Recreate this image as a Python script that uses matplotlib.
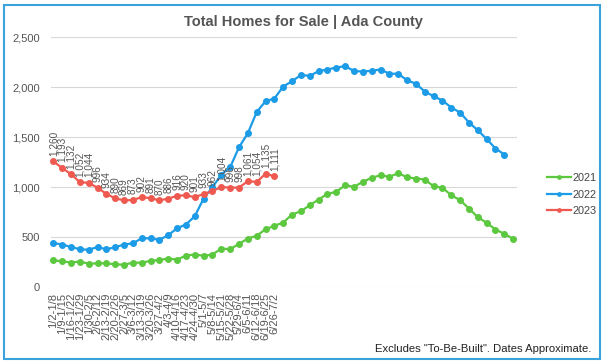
import matplotlib
matplotlib.use("Agg")
import matplotlib.pyplot as plt
from matplotlib.patches import Rectangle
from matplotlib.ticker import FuncFormatter

plt.rcParams["font.family"] = ["Liberation Sans", "DejaVu Sans"]

# ---------- data ----------
week_labels = [
    "1/2-1/8", "1/9-1/15", "1/16-1/22", "1/23-1/29", "1/30-2/5", "2/6-2/12",
    "2/13-2/19", "2/20-2/26", "2/27-3/5", "3/6-3/12", "3/13-3/19", "3/20-3/26",
    "3/27-4/2", "4/3-4/9", "4/10-4/16", "4/17-4/23", "4/24-4/30", "5/1-5/7",
    "5/8-5/14", "5/15-5/21", "5/22-5/28", "5/29-6/4", "6/5-6/11", "6/12-6/18",
    "6/19-6/25", "6/26-7/2",
]

homes_2021 = [
    270, 260, 248, 258, 236, 240, 240, 230, 226, 246, 246, 265, 273, 288,
    276, 318, 328, 316, 328, 388, 381, 435, 488, 515, 581, 615, 648, 728,
    761, 821, 878, 935, 955, 1021, 1005, 1055, 1095, 1121, 1105, 1141, 1101,
    1088, 1078, 1011, 995, 921, 871, 788, 701, 645, 578, 535, 485,
]

homes_2022 = [
    443, 428, 403, 381, 375, 403, 380, 401, 428, 440, 490, 490, 475, 521,
    591, 628, 711, 888, 1001, 1128, 1201, 1401, 1541, 1753, 1861, 1888, 2008,
    2061, 2123, 2115, 2161, 2178, 2198, 2211, 2163, 2158, 2165, 2178, 2136,
    2136, 2070, 2036, 1958, 1911, 1868, 1798, 1748, 1648, 1570, 1483, 1388,
    1328,
]

homes_2023 = [
    1260, 1193, 1132, 1052, 1044, 996, 934, 890, 869, 873, 902, 891, 870,
    886, 916, 920, 901, 933, 962, 1004, 996, 998, 1061, 1054, 1135, 1111,
]

COLORS = {"2021": "#5cc83f", "2022": "#1c9be6", "2023": "#ef5a50"}
GRAY = "#555555"

# ---------- plot ----------
fig = plt.figure(figsize=(6.07, 3.64), dpi=100)
ax = fig.add_axes([0.084, 0.2107, 0.768, 0.6868])

series = [("2021", homes_2021), ("2022", homes_2022), ("2023", homes_2023)]
for name, vals in series:
    ax.plot(range(len(vals)), vals, color=COLORS[name], lw=1.6,
            marker="o", ms=4, label=name, zorder=3, clip_on=False)

# data labels for 2023
for i, v in enumerate(homes_2023):
    ax.annotate(f"{v:,}", (i, v), xytext=(0, 4), textcoords="offset points",
                rotation=90, ha="center", va="bottom", fontsize=7.2,
                color=GRAY, zorder=4)

n = len(homes_2021)
ax.set_xlim(-0.26, n - 0.55)
ax.set_ylim(0, 2500)
ax.set_yticks(range(0, 2501, 500))
ax.yaxis.set_major_formatter(FuncFormatter(lambda v, p: f"{int(v):,}"))
ax.set_xticks(range(n))
ax.set_xticklabels(week_labels + [""] * (n - len(week_labels)),
                   rotation=90, fontsize=8, color=GRAY)
ax.tick_params(axis="y", length=0, labelsize=8, labelcolor=GRAY, pad=8)
ax.tick_params(axis="x", length=0, pad=4)
ax.grid(axis="y", color="#d8d8d8", lw=0.8, zorder=0)
for s in ax.spines.values():
    s.set_visible(False)

leg = fig.legend(loc="center left", bbox_to_anchor=(0.885, 0.465),
                 frameon=False, fontsize=7.8, handlelength=2.2,
                 handletextpad=0.2, labelspacing=0.6, markerscale=0.6)
for t in leg.get_texts():
    t.set_color("#444444")

fig.text(0.5, 0.94, "Total Homes for Sale | Ada County", ha="center",
         va="center", fontsize=10.5, fontweight="bold", color=GRAY)
fig.text(0.975, 0.04, 'Excludes "To-Be-Built". Dates Approximate.',
         ha="right", va="center", fontsize=8.1, color="#222222")

fig.patches.append(Rectangle((4 / 607, 5 / 364), 596 / 607, 354 / 364,
                             transform=fig.transFigure, fill=False,
                             edgecolor="#3aa3dc", lw=1.5))

fig.savefig("out.png", dpi=100)
